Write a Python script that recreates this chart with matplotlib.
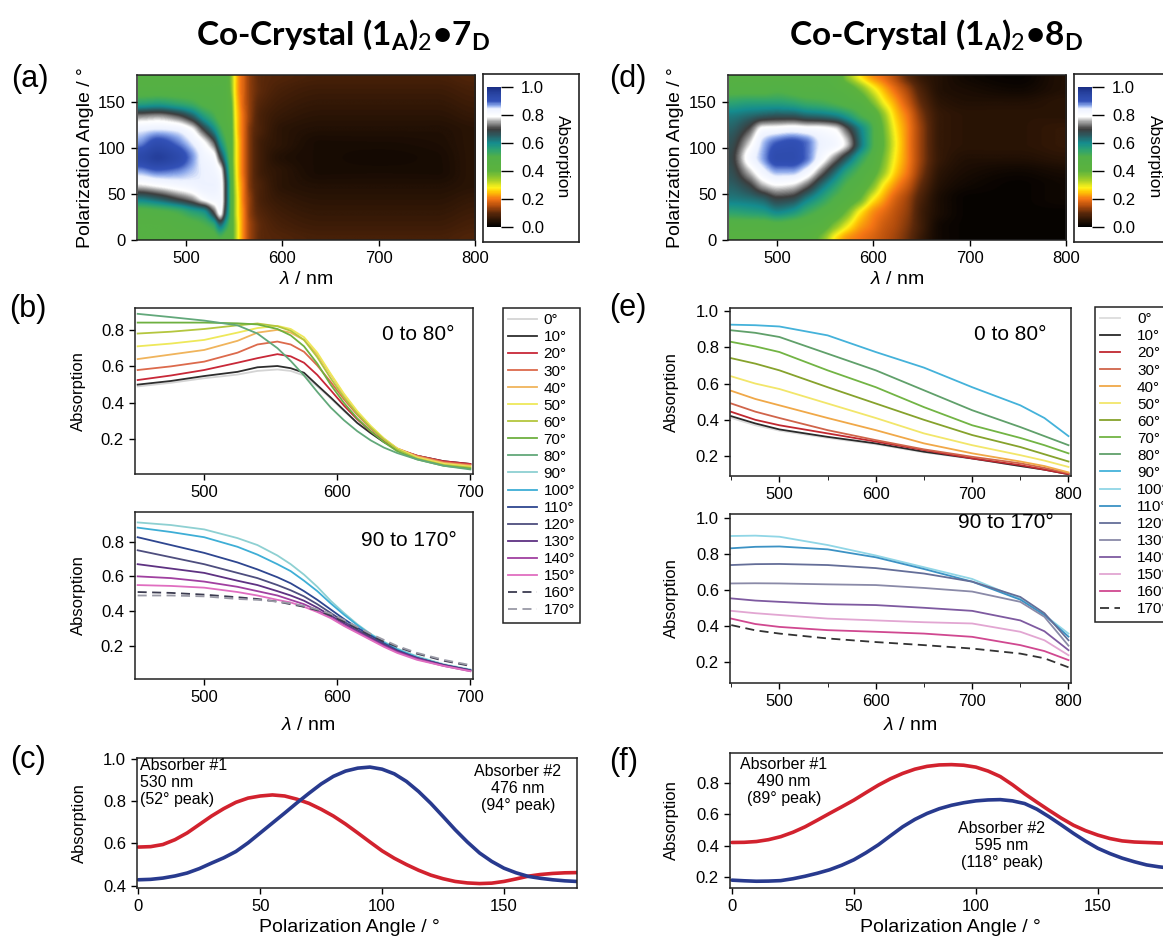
import numpy as np
import matplotlib
matplotlib.use("Agg")
import matplotlib.pyplot as plt
from matplotlib.colors import LinearSegmentedColormap, Normalize
from matplotlib.ticker import FormatStrFormatter

W, H = 1163, 940
plt.rcParams.update({
    'font.family': ['Liberation Sans', 'DejaVu Sans'],
    'mathtext.fontset': 'custom',
    'mathtext.rm': 'Lato',
    'mathtext.bf': 'Lato:bold',
    'mathtext.it': 'Liberation Sans:italic',
    'axes.linewidth': 1.1,
    'axes.edgecolor': '#222222',
    'xtick.direction': 'out', 'ytick.direction': 'out',
    'xtick.major.size': 4.5, 'ytick.major.size': 4.5,
    'xtick.minor.size': 3.0,
    'xtick.major.width': 1.0, 'ytick.major.width': 1.0,
    'xtick.labelsize': 12, 'ytick.labelsize': 12,
})

# ------------------------------------------------------------------ data
ANG = [0, 15, 30, 45, 60, 75, 90, 105, 120, 135, 150, 165, 180]

# (a) heat map: one column (13 angles) per wavelength node
WL_A = [450, 470, 490, 505, 518, 528, 535, 541, 546, 550, 554, 559, 566, 578, 600, 640, 700, 760, 800]
HEAT_A = [
    [0.46, 0.46, 0.48, 0.62, 0.78, 0.87, 0.93, 0.88, 0.84, 0.74, 0.55, 0.47, 0.46],
    [0.46, 0.46, 0.49, 0.65, 0.80, 0.89, 0.96, 0.92, 0.85, 0.75, 0.56, 0.47, 0.46],
    [0.46, 0.47, 0.51, 0.70, 0.82, 0.88, 0.93, 0.89, 0.84, 0.72, 0.54, 0.47, 0.46],
    [0.46, 0.48, 0.55, 0.74, 0.83, 0.86, 0.88, 0.85, 0.80, 0.66, 0.52, 0.47, 0.46],
    [0.47, 0.50, 0.58, 0.80, 0.84, 0.84, 0.83, 0.80, 0.70, 0.57, 0.49, 0.47, 0.46],
    [0.48, 0.53, 0.70, 0.82, 0.84, 0.83, 0.81, 0.73, 0.61, 0.52, 0.48, 0.47, 0.46],
    [0.50, 0.62, 0.80, 0.82, 0.82, 0.80, 0.70, 0.60, 0.53, 0.48, 0.47, 0.47, 0.46],
    [0.47, 0.55, 0.65, 0.68, 0.68, 0.65, 0.58, 0.52, 0.48, 0.46, 0.46, 0.46, 0.46],
    [0.45, 0.47, 0.50, 0.50, 0.50, 0.48, 0.46, 0.45, 0.44, 0.43, 0.41, 0.38, 0.37],
    [0.36, 0.36, 0.35, 0.35, 0.34, 0.33, 0.32, 0.32, 0.31, 0.30, 0.29, 0.28, 0.28],
    [0.28, 0.28, 0.27, 0.27, 0.26, 0.25, 0.25, 0.25, 0.24, 0.24, 0.23, 0.22, 0.22],
    [0.21, 0.21, 0.21, 0.20, 0.20, 0.19, 0.19, 0.19, 0.19, 0.19, 0.18, 0.18, 0.18],
    [0.14, 0.14, 0.13, 0.13, 0.12, 0.12, 0.12, 0.12, 0.12, 0.13, 0.13, 0.13, 0.13],
    [0.10, 0.10, 0.09, 0.08, 0.08, 0.07, 0.07, 0.07, 0.08, 0.08, 0.09, 0.10, 0.10],
    [0.09, 0.08, 0.07, 0.06, 0.05, 0.05, 0.04, 0.05, 0.05, 0.06, 0.07, 0.08, 0.09],
    [0.08, 0.07, 0.06, 0.05, 0.04, 0.03, 0.03, 0.03, 0.04, 0.05, 0.06, 0.07, 0.08],
    [0.08, 0.07, 0.06, 0.05, 0.04, 0.03, 0.025, 0.03, 0.04, 0.05, 0.06, 0.07, 0.08],
    [0.08, 0.07, 0.06, 0.05, 0.04, 0.03, 0.03, 0.035, 0.04, 0.05, 0.06, 0.07, 0.08],
    [0.09, 0.08, 0.07, 0.06, 0.05, 0.05, 0.05, 0.05, 0.05, 0.06, 0.07, 0.08, 0.09],
]

# (d) heat map
WL_D = [450, 470, 485, 500, 515, 530, 545, 560, 572, 585, 598, 610, 622, 635, 650, 670, 700, 750, 800]
HEAT_D = [
    [0.45, 0.47, 0.55, 0.62, 0.65, 0.67, 0.68, 0.67, 0.65, 0.62, 0.55, 0.48, 0.46],
    [0.45, 0.47, 0.56, 0.63, 0.69, 0.76, 0.81, 0.77, 0.71, 0.64, 0.56, 0.48, 0.46],
    [0.45, 0.47, 0.57, 0.65, 0.76, 0.83, 0.87, 0.86, 0.81, 0.66, 0.56, 0.48, 0.46],
    [0.45, 0.48, 0.60, 0.69, 0.79, 0.87, 0.92, 0.90, 0.82, 0.67, 0.56, 0.49, 0.46],
    [0.45, 0.47, 0.58, 0.68, 0.78, 0.87, 0.92, 0.91, 0.83, 0.67, 0.55, 0.48, 0.46],
    [0.44, 0.46, 0.53, 0.62, 0.73, 0.83, 0.89, 0.89, 0.82, 0.65, 0.53, 0.47, 0.46],
    [0.38, 0.44, 0.49, 0.56, 0.64, 0.74, 0.82, 0.84, 0.81, 0.64, 0.52, 0.47, 0.46],
    [0.27, 0.36, 0.45, 0.50, 0.56, 0.64, 0.74, 0.82, 0.79, 0.62, 0.50, 0.46, 0.45],
    [0.22, 0.29, 0.38, 0.46, 0.50, 0.56, 0.66, 0.77, 0.72, 0.58, 0.48, 0.44, 0.36],
    [0.20, 0.23, 0.28, 0.40, 0.46, 0.50, 0.56, 0.64, 0.62, 0.52, 0.46, 0.38, 0.28],
    [0.18, 0.20, 0.22, 0.29, 0.38, 0.44, 0.48, 0.52, 0.52, 0.47, 0.38, 0.30, 0.22],
    [0.16, 0.17, 0.19, 0.23, 0.28, 0.35, 0.38, 0.40, 0.39, 0.36, 0.29, 0.24, 0.19],
    [0.14, 0.15, 0.16, 0.18, 0.22, 0.26, 0.28, 0.29, 0.28, 0.26, 0.23, 0.19, 0.15],
    [0.11, 0.12, 0.13, 0.14, 0.17, 0.20, 0.21, 0.21, 0.21, 0.20, 0.17, 0.14, 0.10],
    [0.06, 0.07, 0.07, 0.08, 0.10, 0.12, 0.13, 0.13, 0.13, 0.12, 0.10, 0.08, 0.06],
    [0.02, 0.02, 0.03, 0.03, 0.04, 0.05, 0.06, 0.06, 0.06, 0.06, 0.05, 0.04, 0.04],
    [0.01, 0.01, 0.01, 0.01, 0.02, 0.03, 0.04, 0.05, 0.05, 0.05, 0.04, 0.03, 0.02],
    [0.01, 0.01, 0.01, 0.01, 0.01, 0.02, 0.04, 0.05, 0.05, 0.05, 0.04, 0.02, 0.01],
    [0.01, 0.01, 0.01, 0.02, 0.02, 0.03, 0.05, 0.06, 0.06, 0.05, 0.05, 0.04, 0.04],
]

# (b) spectra
LEG_LABELS = ['0°', '10°', '20°', '30°', '40°', '50°', '60°', '70°', '80°',
              '90°', '100°', '110°', '120°', '130°', '140°', '150°', '160°', '170°']
WL_B = [450, 475, 500, 525, 540, 555, 565, 575, 585, 595, 605, 615, 625, 635, 645, 660, 680, 700]
SPEC_B_LO = [
    [0.49, 0.51, 0.535, 0.555, 0.575, 0.583, 0.575, 0.55, 0.49, 0.425, 0.355, 0.29, 0.235, 0.185, 0.145, 0.11, 0.08, 0.065],
    [0.50, 0.52, 0.547, 0.57, 0.595, 0.602, 0.59, 0.565, 0.497, 0.43, 0.36, 0.29, 0.235, 0.185, 0.145, 0.11, 0.08, 0.065],
    [0.525, 0.55, 0.58, 0.62, 0.645, 0.667, 0.655, 0.62, 0.553, 0.47, 0.385, 0.31, 0.245, 0.19, 0.145, 0.11, 0.08, 0.065],
    [0.58, 0.60, 0.626, 0.675, 0.72, 0.736, 0.72, 0.68, 0.605, 0.515, 0.42, 0.335, 0.26, 0.20, 0.15, 0.11, 0.075, 0.06],
    [0.64, 0.665, 0.69, 0.74, 0.785, 0.80, 0.785, 0.745, 0.665, 0.555, 0.445, 0.35, 0.27, 0.205, 0.15, 0.105, 0.07, 0.055],
    [0.71, 0.725, 0.745, 0.785, 0.81, 0.822, 0.805, 0.76, 0.675, 0.56, 0.45, 0.355, 0.275, 0.205, 0.15, 0.10, 0.065, 0.05],
    [0.78, 0.79, 0.805, 0.825, 0.835, 0.82, 0.795, 0.745, 0.65, 0.535, 0.43, 0.34, 0.265, 0.20, 0.145, 0.095, 0.06, 0.045],
    [0.84, 0.84, 0.84, 0.836, 0.83, 0.805, 0.77, 0.71, 0.615, 0.50, 0.40, 0.315, 0.245, 0.185, 0.135, 0.09, 0.055, 0.04],
    [0.888, 0.87, 0.851, 0.825, 0.78, 0.70, 0.63, 0.55, 0.46, 0.375, 0.305, 0.245, 0.195, 0.155, 0.125, 0.09, 0.055, 0.035],
]
SPEC_B_HI = [
    [0.91, 0.895, 0.87, 0.82, 0.78, 0.72, 0.67, 0.61, 0.54, 0.46, 0.39, 0.325, 0.27, 0.225, 0.185, 0.14, 0.095, 0.065],
    [0.88, 0.855, 0.825, 0.77, 0.725, 0.67, 0.63, 0.575, 0.515, 0.445, 0.38, 0.32, 0.265, 0.22, 0.18, 0.135, 0.09, 0.06],
    [0.825, 0.78, 0.735, 0.68, 0.64, 0.595, 0.56, 0.515, 0.465, 0.41, 0.355, 0.305, 0.26, 0.215, 0.175, 0.13, 0.09, 0.06],
    [0.75, 0.71, 0.67, 0.62, 0.59, 0.55, 0.52, 0.485, 0.44, 0.39, 0.34, 0.295, 0.25, 0.21, 0.17, 0.13, 0.09, 0.06],
    [0.67, 0.645, 0.62, 0.575, 0.55, 0.515, 0.49, 0.46, 0.42, 0.375, 0.33, 0.285, 0.245, 0.205, 0.17, 0.13, 0.09, 0.06],
    [0.60, 0.59, 0.57, 0.54, 0.515, 0.49, 0.465, 0.44, 0.405, 0.365, 0.32, 0.28, 0.24, 0.20, 0.165, 0.125, 0.085, 0.055],
    [0.55, 0.545, 0.535, 0.51, 0.49, 0.465, 0.45, 0.425, 0.395, 0.36, 0.315, 0.275, 0.235, 0.195, 0.16, 0.12, 0.085, 0.055],
    [0.51, 0.505, 0.495, 0.48, 0.47, 0.455, 0.44, 0.425, 0.405, 0.375, 0.34, 0.30, 0.26, 0.225, 0.195, 0.155, 0.115, 0.085],
    [0.49, 0.49, 0.485, 0.47, 0.465, 0.455, 0.445, 0.43, 0.41, 0.385, 0.35, 0.31, 0.27, 0.235, 0.20, 0.16, 0.12, 0.09],
]
COLORS_B = ['#d4d4d4', '#2e2e2e', '#c82838', '#dc6a4c', '#f0b45c', '#eee85a', '#b4c63e', '#6eb040',
            '#62a87a', '#8ed0d2', '#3eaed6', '#2e4690', '#4e4e7e', '#5e3282', '#a040a0', '#e06ec0',
            '#3c3c50', '#9a9aa6']
STYLES_B = ['-'] * 16 + ['--', '--']

# (e) spectra
WL_E = [450, 475, 500, 550, 600, 650, 700, 750, 775, 800]
SPEC_E_LO = [
    [0.41, 0.37, 0.34, 0.30, 0.265, 0.22, 0.185, 0.145, 0.125, 0.10],
    [0.42, 0.38, 0.347, 0.306, 0.27, 0.224, 0.187, 0.145, 0.125, 0.10],
    [0.444, 0.40, 0.37, 0.325, 0.28, 0.233, 0.187, 0.15, 0.125, 0.10],
    [0.49, 0.445, 0.41, 0.343, 0.288, 0.237, 0.196, 0.16, 0.135, 0.105],
    [0.56, 0.515, 0.48, 0.41, 0.343, 0.27, 0.215, 0.17, 0.145, 0.11],
    [0.64, 0.60, 0.57, 0.49, 0.41, 0.325, 0.26, 0.205, 0.175, 0.14],
    [0.74, 0.71, 0.673, 0.58, 0.49, 0.40, 0.316, 0.25, 0.21, 0.17],
    [0.83, 0.805, 0.774, 0.673, 0.58, 0.47, 0.37, 0.30, 0.26, 0.215],
    [0.894, 0.88, 0.857, 0.765, 0.673, 0.563, 0.453, 0.36, 0.31, 0.26],
    [0.925, 0.922, 0.915, 0.866, 0.774, 0.688, 0.58, 0.48, 0.41, 0.31],
]
SPEC_E_HI = [
    [0.898, 0.90, 0.894, 0.848, 0.79, 0.725, 0.66, 0.55, 0.46, 0.357],
    [0.83, 0.838, 0.84, 0.824, 0.78, 0.715, 0.645, 0.545, 0.46, 0.34],
    [0.737, 0.742, 0.743, 0.737, 0.72, 0.69, 0.645, 0.56, 0.47, 0.32],
    [0.635, 0.636, 0.635, 0.63, 0.626, 0.61, 0.59, 0.533, 0.45, 0.29],
    [0.552, 0.54, 0.533, 0.52, 0.515, 0.50, 0.483, 0.43, 0.37, 0.265],
    [0.483, 0.47, 0.46, 0.44, 0.43, 0.42, 0.413, 0.367, 0.32, 0.237],
    [0.44, 0.41, 0.394, 0.376, 0.367, 0.357, 0.339, 0.293, 0.26, 0.21],
    [0.404, 0.375, 0.357, 0.33, 0.31, 0.293, 0.274, 0.246, 0.22, 0.17],
]
COLORS_E = ['#dcdcdc', '#2a2a2a', '#c02830', '#d0644a', '#f0a848', '#f2e66a', '#86a22c', '#72b444',
            '#60a06a', '#44b2da', '#90d6e6', '#3c92c4', '#646e98', '#8a8aa8', '#7e5aa0', '#e2a6d2',
            '#d04890', '#333333']
STYLES_E = ['-'] * 17 + ['--']

# (c) / (f) polarisation profiles
ANG_C = list(range(0, 181, 5))
C_RED = [0.583, 0.585, 0.595, 0.618, 0.65, 0.69, 0.73, 0.765, 0.795, 0.815, 0.825, 0.83, 0.825,
         0.81, 0.79, 0.762, 0.73, 0.692, 0.65, 0.607, 0.565, 0.53, 0.50, 0.473, 0.45, 0.433, 0.42,
         0.413, 0.41, 0.412, 0.42, 0.432, 0.445, 0.453, 0.458, 0.461, 0.462]
C_BLUE = [0.428, 0.43, 0.436, 0.446, 0.46, 0.481, 0.507, 0.532, 0.562, 0.603, 0.65, 0.697, 0.744,
          0.792, 0.838, 0.882, 0.918, 0.943, 0.957, 0.962, 0.952, 0.93, 0.894, 0.846, 0.79, 0.728,
          0.665, 0.607, 0.555, 0.515, 0.483, 0.461, 0.444, 0.435, 0.428, 0.423, 0.42]
F_RED = [0.42, 0.421, 0.426, 0.438, 0.457, 0.485, 0.52, 0.562, 0.605, 0.647, 0.69, 0.738, 0.785,
         0.826, 0.86, 0.887, 0.905, 0.914, 0.916, 0.912, 0.90, 0.875, 0.84, 0.788, 0.73, 0.677,
         0.625, 0.575, 0.53, 0.495, 0.467, 0.445, 0.43, 0.423, 0.42, 0.417, 0.415]
F_BLUE = [0.18, 0.176, 0.173, 0.174, 0.177, 0.189, 0.205, 0.224, 0.246, 0.275, 0.31, 0.355, 0.405,
          0.463, 0.52, 0.567, 0.605, 0.635, 0.657, 0.673, 0.685, 0.691, 0.693, 0.685, 0.668, 0.632,
          0.584, 0.532, 0.478, 0.428, 0.383, 0.349, 0.32, 0.297, 0.277, 0.265, 0.256]

RED = '#d2222e'
BLUE = '#283a8e'

# ------------------------------------------------------------------ colormap
CMAP = LinearSegmentedColormap.from_list('igor', [
    (0.00, (0.0, 0.0, 0.0)),
    (0.05, (0.17, 0.08, 0.02)),
    (0.10, (0.36, 0.16, 0.04)),
    (0.15, (0.70, 0.30, 0.05)),
    (0.20, (0.96, 0.46, 0.08)),
    (0.25, (1.00, 0.78, 0.02)),
    (0.28, (1.00, 0.95, 0.10)),
    (0.34, (0.62, 0.80, 0.16)),
    (0.40, (0.36, 0.70, 0.24)),
    (0.50, (0.32, 0.69, 0.28)),
    (0.55, (0.18, 0.64, 0.44)),
    (0.60, (0.08, 0.55, 0.56)),
    (0.66, (0.18, 0.34, 0.36)),
    (0.70, (0.24, 0.24, 0.24)),
    (0.75, (0.62, 0.62, 0.62)),
    (0.79, (1.00, 1.00, 1.00)),
    (0.845, (0.93, 0.95, 1.00)),
    (0.87, (0.55, 0.66, 0.92)),
    (0.90, (0.20, 0.32, 0.72)),
    (0.95, (0.16, 0.27, 0.64)),
    (1.00, (0.10, 0.18, 0.52)),
])


def pchip(x, y, xn):
    """Monotone cubic resampling used only to render the smooth contour image."""
    x = np.asarray(x, float)
    y = np.asarray(y, float)
    h = np.diff(x)
    shp = (-1,) + (1,) * (y.ndim - 1)
    delta = np.diff(y, axis=0) / h.reshape(shp)
    d = np.zeros_like(y)
    for k in range(1, len(x) - 1):
        a, b = delta[k - 1], delta[k]
        w1, w2 = 2 * h[k] + h[k - 1], h[k] + 2 * h[k - 1]
        ok = a * b > 0
        with np.errstate(divide='ignore', invalid='ignore'):
            val = (w1 + w2) / (w1 / np.where(ok, a, 1) + w2 / np.where(ok, b, 1))
        d[k] = np.where(ok, val, 0.0)
    d[0], d[-1] = 0.0, 0.0
    idx = np.clip(np.searchsorted(x, xn, side='right') - 1, 0, len(x) - 2)
    hh = h[idx].reshape(shp)
    t = ((xn - x[idx]) / h[idx]).reshape(shp)
    h00 = (1 + 2 * t) * (1 - t) ** 2
    h10 = t * (1 - t) ** 2
    h01 = t * t * (3 - 2 * t)
    h11 = t * t * (t - 1)
    return h00 * y[idx] + h10 * hh * d[idx] + h01 * y[idx + 1] + h11 * hh * d[idx + 1]


fig = plt.figure(figsize=(W / 100, H / 100), dpi=100)
fig.patch.set_facecolor('white')


def add_ax(left, top, right, bottom):
    return fig.add_axes([left / W, 1 - bottom / H, (right - left) / W, (bottom - top) / H])


def ftext(x, y, s, **kw):
    return fig.text(x / W, 1 - y / H, s, **kw)


def heat_panel(box, wl, cols, cbox, cbar):
    ax = add_ax(*box)
    wl_f = np.linspace(wl[0], wl[-1], 701)
    ang_f = np.linspace(ANG[0], ANG[-1], 361)
    step1 = pchip(wl, np.array(cols), wl_f)          # (n_wl_f, n_ang)
    field = pchip(ANG, step1.T, ang_f)               # (n_ang_f, n_wl_f)
    im = ax.imshow(field, origin='lower', aspect='auto', cmap=CMAP, norm=Normalize(0, 1),
                   extent=(wl[0], wl[-1], ANG[0], ANG[-1]), interpolation='bilinear')
    ax.set_xlim(449, 800)
    ax.set_ylim(0, 180)
    ax.set_xticks([500, 600, 700, 800])
    ax.set_yticks([0, 50, 100, 150])
    bx = add_ax(*cbox)
    bx.set_xticks([]); bx.set_yticks([])
    for s in bx.spines.values():
        s.set_linewidth(1.2)
    cax = add_ax(*cbar)
    cb = fig.colorbar(im, cax=cax, ticks=[0, 0.2, 0.4, 0.6, 0.8, 1.0])
    cb.outline.set_visible(False)
    cax.yaxis.set_major_formatter(FormatStrFormatter('%.1f'))
    cax.tick_params(direction='out', length=8.5, width=1.0, pad=6, labelsize=12)
    return ax


ax_a = heat_panel((137, 75, 475, 240), WL_A, HEAT_A, (483, 74, 579, 242), (487, 87, 501, 227))
ax_d = heat_panel((728, 75, 1066, 240), WL_D, HEAT_D, (1074, 74, 1175, 242), (1078, 87, 1092, 227))
ftext(562, 157, 'Absorption', rotation=270, ha='center', va='center', fontsize=12.5)
ftext(1154, 157, 'Absorption', rotation=270, ha='center', va='center', fontsize=12.5)


def spec_panel(box, wl, curves, colors, styles, ylim, xlim, xticks, yticks, minor=None):
    ax = add_ax(*box)
    lines = []
    for vals, c, ls in zip(curves, colors, styles):
        kw = dict(dashes=(5, 3)) if ls == '--' else {}
        ln, = ax.plot(wl, vals, color=c, ls=ls, lw=1.3, solid_joinstyle='round', **kw)
        lines.append(ln)
    ax.set_xlim(*xlim)
    ax.set_ylim(*ylim)
    ax.set_xticks(xticks)
    if minor is not None:
        ax.set_xticks(minor, minor=True)
    ax.set_yticks(yticks)
    ax.yaxis.set_major_formatter(FormatStrFormatter('%.1f'))
    return ax, lines


yt_b = [0.2, 0.4, 0.6, 0.8]
yt_e = [0.2, 0.4, 0.6, 0.8, 1.0]
ax_b1, lb1 = spec_panel((135, 308, 473, 474), WL_B, SPEC_B_LO, COLORS_B[:9], STYLES_B[:9],
                        (0.01, 0.92), (448, 702), [500, 600, 700], yt_b)
ax_b2, lb2 = spec_panel((135, 512, 473, 679), WL_B, SPEC_B_HI, COLORS_B[9:], STYLES_B[9:],
                        (0.01, 0.97), (448, 702), [500, 600, 700], yt_b)
ax_e1, le1 = spec_panel((730, 308, 1071, 476), WL_E, SPEC_E_LO, COLORS_E[:10], STYLES_E[:10],
                        (0.09, 1.017), (448.7, 802.6), [500, 600, 700, 800], yt_e, [450, 550, 650, 750])
ax_e2, le2 = spec_panel((730, 514, 1071, 683), WL_E, SPEC_E_HI, COLORS_E[10:], STYLES_E[10:],
                        (0.083, 1.02), (448.7, 802.6), [500, 600, 700, 800], yt_e, [450, 550, 650, 750])

leg_b = fig.legend(lb1 + lb2, LEG_LABELS, loc='upper left', bbox_to_anchor=(503 / W, 1 - 308 / H),
                   fontsize=11, frameon=True, fancybox=False, edgecolor='#222222', framealpha=1,
                   borderpad=0.35, labelspacing=0.2, handlelength=1.85, handletextpad=0.45,
                   borderaxespad=0)
leg_b.get_frame().set_linewidth(1.1)
leg_e = fig.legend(le1 + le2, LEG_LABELS, loc='upper left', bbox_to_anchor=(1095 / W, 1 - 307 / H),
                   fontsize=11, frameon=True, fancybox=False, edgecolor='#222222', framealpha=1,
                   borderpad=0.35, labelspacing=0.2, handlelength=1.3, handletextpad=1.1,
                   borderaxespad=0)
leg_e.get_frame().set_linewidth(1.1)

ftext(454, 335, '0 to 80°', ha='right', va='center', fontsize=15)
ftext(457, 540, '90 to 170°', ha='right', va='center', fontsize=15)
ftext(1047, 335, '0 to 80°', ha='right', va='center', fontsize=15)
ftext(1054, 523, '90 to 170°', ha='right', va='center', fontsize=15)


def pol_panel(box, red, blue, ylim, yticks, xlim):
    ax = add_ax(*box)
    ax.plot(ANG_C, red, color=RED, lw=2.6, solid_capstyle='round', solid_joinstyle='round')
    ax.plot(ANG_C, blue, color=BLUE, lw=2.6, solid_capstyle='round', solid_joinstyle='round')
    ax.set_xlim(*xlim)
    ax.set_ylim(*ylim)
    ax.set_xticks([0, 50, 100, 150])
    ax.set_yticks(yticks)
    ax.yaxis.set_major_formatter(FormatStrFormatter('%.1f'))
    return ax


ax_c = pol_panel((137, 758, 577, 888), C_RED, C_BLUE, (0.389, 1.005), [0.4, 0.6, 0.8, 1.0], (-0.6, 180))
ax_f = pol_panel((730, 753, 1171, 888), F_RED, F_BLUE, (0.13, 0.99), [0.2, 0.4, 0.6, 0.8], (-0.8, 180))

ftext(140, 758, 'Absorber #1\n530 nm\n(52° peak)', ha='left', va='top', fontsize=11.5, linespacing=1.15)
ftext(518, 764, 'Absorber #2\n476 nm\n(94° peak)', ha='center', va='top', fontsize=11.5,
      linespacing=1.15, multialignment='center')
ftext(784, 757, 'Absorber #1\n490 nm\n(89° peak)', ha='center', va='top', fontsize=11.5,
      linespacing=1.15, multialignment='center')
ftext(1002, 821, 'Absorber #2\n595 nm\n(118° peak)', ha='center', va='top', fontsize=11.5,
      linespacing=1.15, multialignment='center')

# axis labels
lam = r'$\lambda$ / nm'
ftext(85, 157.5, 'Polarization Angle / °', rotation=90, ha='center', va='center', fontsize=14)
ftext(675, 157.5, 'Polarization Angle / °', rotation=90, ha='center', va='center', fontsize=14)
ftext(306, 279, lam, ha='center', va='center', fontsize=14)
ftext(897, 279, lam, ha='center', va='center', fontsize=14)
ftext(308, 725, lam, ha='center', va='center', fontsize=14)
ftext(910, 726, lam, ha='center', va='center', fontsize=14)
ftext(349, 928, 'Polarization Angle / °', ha='center', va='center', fontsize=14)
ftext(950, 928, 'Polarization Angle / °', ha='center', va='center', fontsize=14)
for x, y in [(78, 391), (78, 595.5), (671, 392), (671, 598.5), (79, 823), (671, 820.5)]:
    ftext(x, y, 'Absorption', rotation=90, ha='center', va='center', fontsize=12)

# panel letters
for s, x, y in [('(a)', 30, 79), ('(d)', 628, 79), ('(b)', 28, 309), ('(e)', 628, 308),
                ('(c)', 28, 760), ('(f)', 624, 762)]:
    ftext(x, y, s, ha='center', va='center', fontsize=22)

# titles
ftext(343, 35, r'Co-Crystal (1$_{\mathbf{A}}$)$_{\mathrm{2}}$•7$_{\mathbf{D}}$',
      ha='center', va='center', fontsize=24, fontfamily='Lato', fontweight='bold')
ftext(936, 35, r'Co-Crystal (1$_{\mathbf{A}}$)$_{\mathrm{2}}$•8$_{\mathbf{D}}$',
      ha='center', va='center', fontsize=24, fontfamily='Lato', fontweight='bold')

fig.savefig('out.png', dpi=100)
